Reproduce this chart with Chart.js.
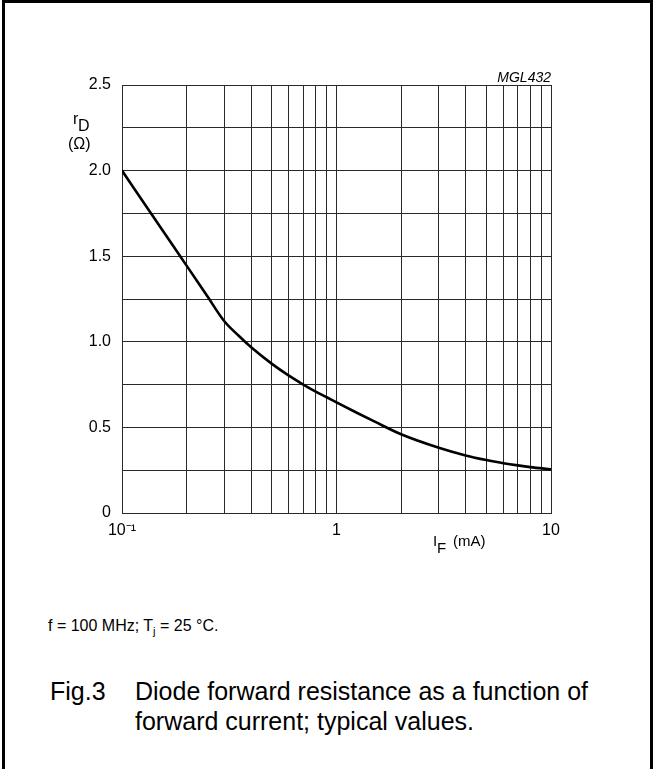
<!DOCTYPE html>
<html>
<head>
<meta charset="utf-8">
<script src="https://cdn.jsdelivr.net/npm/chart.js@4.4.1/dist/chart.umd.min.js"></script>
<style>
  body { margin: 0; background: #fff; font-family: "Liberation Sans", Arial, sans-serif; }
  #frame { position: absolute; left: 2px; top: 0; width: 651px; height: 820px;
           box-sizing: border-box; border: 3px solid #000; border-bottom: none; }
  #chart { position: absolute; left: 0; top: 0; }
  .note { position: absolute; left: 48px; top: 617px; font-size: 16px; color: #000; }
  .note sub { font-size: 11px; }
  .cap { position: absolute; font-size: 25px; color: #000; line-height: 30px; }
</style>
</head>
<body>
<div id="frame"></div>
<canvas id="chart" width="656" height="600"></canvas>
<div class="note">f = 100 MHz; T<sub>j</sub> = 25 °C.</div>
<div class="cap" style="left:50px; top:676px;">Fig.3</div>
<div class="cap" style="left:135px; top:676px;">Diode forward resistance as a function of<br>forward current; typical values.</div>

<script>
/* forward current (mA) and dynamic resistance (ohm) */
const currentMA = [0.1, 0.15, 0.2, 0.25, 0.3, 0.35, 0.4, 0.5, 0.6, 0.7, 0.8, 0.9, 1, 1.25, 1.5, 2, 3, 4, 5, 6, 7, 8, 10];
const resistanceOhm = [2.0, 1.675, 1.445, 1.266, 1.12, 1.035, 0.968, 0.871, 0.802, 0.75, 0.709, 0.676, 0.646, 0.584, 0.535, 0.46, 0.381, 0.336, 0.309, 0.291, 0.278, 0.268, 0.255];

/* grid lines and labelled ticks */
const xGrid = [0.1, 0.2, 0.3, 0.4, 0.5, 0.6, 0.7, 0.8, 0.9, 1, 2, 3, 4, 5, 6, 7, 8, 9, 10];
const xLabelValues = [0.1, 1, 10];
const xLabelTexts = ["10⁻¹", "1", "10"];
const yGrid = [0, 0.25, 0.5, 0.75, 1.0, 1.25, 1.5, 1.75, 2.0, 2.25, 2.5];
const yLabelValues = [0, 0.5, 1.0, 1.5, 2.0, 2.5];
const yLabelTexts = ["0", "0.5", "1.0", "1.5", "2.0", "2.5"];

const FONT = "Liberation Sans, Arial, sans-serif";
const gridColor = "#2a2a2a";

function labelFor(values, texts, v) {
    const i = values.findIndex((t) => Math.abs(t - v) < 1e-9);
    return i >= 0 ? texts[i] : "";
}

/* axis titles, placed from the chart area */
const axisTitles = {
    id: "axisTitles",
    afterDraw(chart) {
        const ctx = chart.ctx;
        const area = chart.chartArea;
        ctx.save();
        ctx.fillStyle = "#000";
        ctx.textBaseline = "alphabetic";
        ctx.textAlign = "left";

        ctx.font = "16px " + FONT;
        ctx.fillText("r", area.left - 49, 124);
        ctx.fillText("D", area.left - 44, 131);
        ctx.fillText("(Ω)", area.left - 54, 149);

        ctx.font = "15px " + FONT;
        ctx.fillText("I", area.left + 311, 546);
        ctx.fillText("F", area.left + 315, 553);
        ctx.fillText("(mA)", area.left + 331, 546);

        ctx.font = "italic 14px " + FONT;
        ctx.textAlign = "right";
        ctx.fillText("MGL432", area.right, area.top - 3);
        ctx.restore();
    }
};

new Chart("chart", {
    type: "line",
    data: {
        datasets: [{
            data: currentMA.map((x, i) => ({ x: x, y: resistanceOhm[i] })),
            borderColor: "#000",
            borderWidth: 2.6,
            pointRadius: 0,
            cubicInterpolationMode: "monotone",
            fill: false
        }]
    },
    options: {
        responsive: false,
        animation: false,
        devicePixelRatio: 1,
        layout: { padding: { left: 0, top: 85, right: 105, bottom: 0 } },
        plugins: { legend: { display: false }, tooltip: { enabled: false } },
        scales: {
            x: {
                type: "logarithmic",
                min: 0.1,
                max: 10,
                afterBuildTicks: (scale) => { scale.ticks = xGrid.map((v) => ({ value: v })); },
                afterFit: (scale) => { scale.height = 87; },
                ticks: {
                    autoSkip: false,
                    maxRotation: 0,
                    padding: 8,
                    color: "#000",
                    font: { family: FONT, size: 16 },
                    callback: (v) => labelFor(xLabelValues, xLabelTexts, v)
                },
                grid: { color: gridColor, lineWidth: 1, drawTicks: false },
                border: { display: true, color: gridColor, width: 1 }
            },
            y: {
                min: 0,
                max: 2.5,
                afterBuildTicks: (scale) => { scale.ticks = yGrid.map((v) => ({ value: v })); },
                afterFit: (scale) => { scale.width = 122; },
                ticks: {
                    autoSkip: false,
                    padding: 11,
                    color: "#000",
                    font: { family: FONT, size: 16 },
                    callback: (v) => labelFor(yLabelValues, yLabelTexts, v)
                },
                grid: { color: gridColor, lineWidth: 1, drawTicks: false },
                border: { display: true, color: gridColor, width: 1 }
            }
        }
    },
    plugins: [axisTitles]
});
</script>
</body>
</html>
